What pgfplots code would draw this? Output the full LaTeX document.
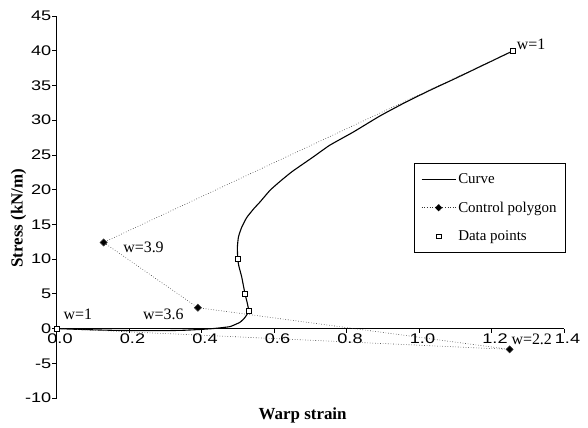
\documentclass[border=0pt]{standalone}
\usepackage{fontspec}
\setmainfont{Liberation Serif}
\newfontfamily\tickfont[FakeStretch=1.3]{Liberation Sans}
\usepackage{pgfplots}
\pgfplotsset{compat=1.18}

\begin{document}
\begin{tikzpicture}
\useasboundingbox (-56.5bp,-30bp) rectangle (531.5bp,398bp);
\begin{axis}[
    scale only axis,
    width=507.5bp, height=382bp,
    at={(0,0)}, anchor=south west,
    xmin=0, xmax=1.4, ymin=-10, ymax=45,
    axis x line*=middle, axis y line*=left,
    axis line style={black, line width=0.8bp},
    hide obscured x ticks=false, hide obscured y ticks=false,
    xtick={0,0.2,0.4,0.6,0.8,1.0,1.2,1.4},
    xticklabels={0.0,0.2,0.4,0.6,0.8,1.0,1.2,1.4},
    ytick={-10,-5,0,5,10,15,20,25,30,35,40,45},
    yticklabels={-10,-5,0,5,10,15,20,25,30,35,40,45},
    tick align=outside, major tick length=4bp,
    tick style={black, line width=0.8bp},
    ticklabel style={font=\fontsize{14}{16}\selectfont\tickfont},
    xticklabel style={inner sep=1.5bp, xshift=3.5bp},
    yticklabel style={inner sep=1bp},
    xlabel={\textbf{Warp strain}},
    ylabel={\textbf{Stress (kN/m)}},
    label style={font=\fontsize{17}{19}\selectfont},
    xlabel style={at={(axis description cs:0.485,-0.0445)}, anchor=center},
    ylabel style={at={(axis description cs:-0.075,0.471)}, anchor=center, rotate=0},
    clip=false,
    legend style={at={(rel axis cs:0.704,0.615)}, anchor=north west, draw=black,
        fill=white, font=\fontsize{15}{17}\selectfont, row sep=13bp,
        inner xsep=7bp, inner ysep=8bp, line width=0.8bp,
        /tikz/every even column/.append style={column sep=5bp}},
    legend cell align=left,
]
% rational Bezier curve
\addplot[black, line width=1.1bp, smooth, tension=0.3, mark=none,
    legend image code/.code={\draw[black, line width=1.1bp] (0bp,0bp) -- (34bp,0bp);}] coordinates {
(0,0) (0.05,-0.1) (0.1,-0.18) (0.15,-0.25) (0.2,-0.29) (0.25,-0.31) (0.3,-0.3)
(0.35,-0.25) (0.4,-0.12) (0.433,0) (0.46,0.15) (0.48,0.3) (0.506,0.9) (0.52,1.6)
(0.53,2.5) (0.527,3.5) (0.52,5) (0.511,7.4) (0.503,9) (0.50,10) (0.499,11.7)
(0.502,13.2) (0.511,14.6) (0.525,16.0) (0.545,17.3) (0.561,18.2) (0.589,19.9)
(0.617,21.2) (0.65,22.6) (0.708,24.7) (0.754,26.4) (0.819,28.3) (0.892,30.6)
(0.96,32.5) (1.03,34.3) (1.1,36.0) (1.168,37.7) (1.26,40)
};
\addlegendentry{Curve}
% control polygon
\addplot[black!80, line width=0.6bp, dotted, mark=square*, mark size=2.5bp,
    mark indices={2,3,4}, mark options={solid, fill=black, rotate=45},
    legend image code/.code={\draw[black!80, line width=0.6bp, dotted] (0bp,0bp) -- (34bp,0bp);
        \fill[black] (17bp,0bp) +(0,3.5bp) -- +(3.5bp,0) -- +(0,-3.5bp) -- +(-3.5bp,0) -- cycle;}]
    coordinates {
(0,0) (1.25,-3) (0.39,3) (0.13,12.4) (1.26,40)
};
\addlegendentry{Control polygon}
% data points
\addplot[only marks, mark=square*, mark size=2.4bp,
    mark options={fill=white, draw=black, line width=0.8bp},
    legend image code/.code={\draw[fill=white, draw=black, line width=0.8bp]
        (14.6bp,-2.4bp) rectangle (19.4bp,2.4bp);}] coordinates {
(0,0) (0.53,2.5) (0.52,5) (0.50,10) (1.26,40)
};
\addlegendentry{Data points}

\node[font=\fontsize{16}{18}\selectfont] at (axis cs:1.309,40.9) {w=1};
\node[font=\fontsize{16}{18}\selectfont] at (axis cs:0.24,11.7) {w=3.9};
\node[font=\fontsize{16}{18}\selectfont] at (axis cs:0.295,2.1) {w=3.6};
\node[font=\fontsize{16}{18}\selectfont] at (axis cs:0.059,2.1) {w=1};
\node[font=\fontsize{16}{18}\selectfont] at (axis cs:1.311,-1.5) {w=2.2};
\end{axis}
\end{tikzpicture}
\end{document}
